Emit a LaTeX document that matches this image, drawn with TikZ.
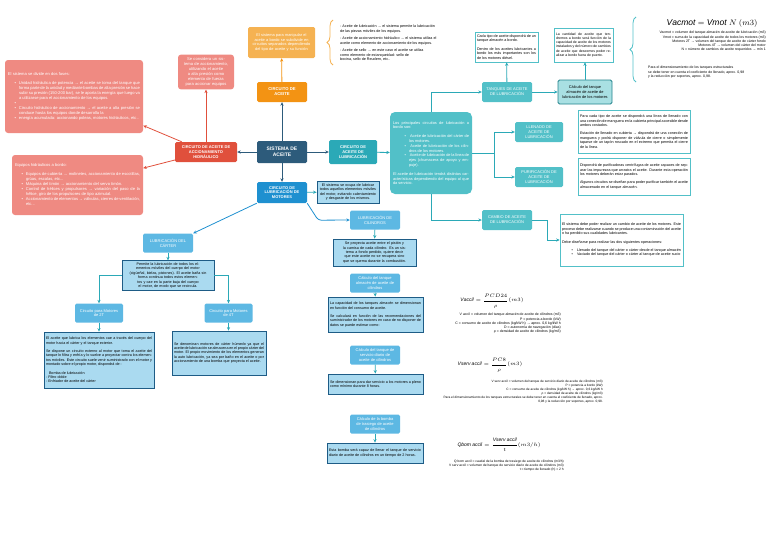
\documentclass[tikz,border=0pt]{standalone}
\usepackage{amsmath}
\usepackage{fontspec}
\setmainfont{Liberation Sans}
\usepackage{xcolor}
\usepackage{tikz}
\usetikzlibrary{arrows.meta,positioning,calc,decorations.pathreplacing}
\definecolor{hubblue}{HTML}{2D5B7B}
\definecolor{orangemain}{HTML}{F39313}
\definecolor{orangelight}{HTML}{F5B252}
\definecolor{redmain}{HTML}{E0503C}
\definecolor{redlight}{HTML}{EF8A82}
\definecolor{tealmain}{HTML}{2BA9B7}
\definecolor{teallight}{HTML}{52C0C8}
\definecolor{tealpale}{HTML}{A9E0E3}
\definecolor{tealdark}{HTML}{23838C}
\definecolor{bluemain}{HTML}{1E90D0}
\definecolor{bluelight}{HTML}{5DB8E3}
\definecolor{bluepale}{HTML}{AADAF0}
\definecolor{bluedark}{HTML}{1E5C86}
\tikzset{
  headbox/.style={rounded corners=1.5pt,align=center,text=white,inner sep=1pt,
    font=\fontsize{4}{4.8}\selectfont},
  hub/.style={headbox,fill=hubblue,minimum width=50pt,minimum height=22pt,
    font=\bfseries\fontsize{5}{6}\selectfont},
  orangehead/.style={headbox,fill=orangemain,minimum width=50pt,minimum height=20pt,
    font=\bfseries\fontsize{4.2}{5}\selectfont},
  orangenote/.style={headbox,fill=orangelight,minimum height=31pt,inner sep=2pt,
    font=\fontsize{3.9}{4.7}\selectfont},
  redhead/.style={headbox,fill=redmain,minimum width=62pt,minimum height=20pt,
    font=\bfseries\fontsize{4}{4.8}\selectfont},
  rednote/.style={headbox,fill=redlight,rounded corners=3pt,inner sep=3pt,
    font=\fontsize{4.1}{5}\selectfont},
  tealhead/.style={headbox,fill=teallight,minimum width=50pt,minimum height=20pt},
  tealbig/.style={fill=teallight,text=white,rounded corners=5pt,align=justify,inner sep=3pt,
    font=\fontsize{3.9}{4.8}\selectfont},
  tealnote/.style={draw=teallight,line width=0.7pt,fill=white,align=justify,inner sep=2pt,
    font=\fontsize{3.7}{4.4}\selectfont},
  tealcalc/.style={headbox,text=black,fill=tealpale,draw=tealdark,line width=0.8pt,
    minimum width=54pt,minimum height=24pt,font=\fontsize{3.9}{4.7}\selectfont},
  bluehead/.style={headbox,fill=bluemain,minimum width=50pt,minimum height=21pt,
    font=\bfseries\fontsize{4}{4.8}\selectfont},
  bluesub/.style={headbox,fill=bluelight,minimum width=50pt,minimum height=19pt},
  bluenote/.style={draw=bluedark,line width=0.8pt,fill=bluepale,align=center,inner sep=2pt,
    font=\fontsize{3.7}{4.4}\selectfont},
  arr/.style={-{Stealth[length=3.5pt,width=3.2pt]},line width=0.8pt},
  formula/.style={inner sep=0pt,font=\fontsize{5}{6}\selectfont},
  legend/.style={align=right,inner sep=0pt,font=\fontsize{3.5}{4.3}\selectfont}
}
\newcommand{\itm}[1][11pt]{\par\noindent\hangindent=#1\hangafter=0\llap{\textbullet\hspace{3pt}}}
\newcommand{\gapline}{\par\vspace{4pt}}

\begin{document}
\begin{tikzpicture}[x=1pt,y=-1pt]
\useasboundingbox (0,0) rectangle (768,544);

% centro
\node[hub] (sistema) at (282,152) {SISTEMA DE\\ACEITE};

% circuito de aceite
\node[orangehead] (circ) at (282,92) {CIRCUITO DE\\ACEITE};
\node[orangenote,text width=63pt] (circnota) at (281.5,42.5) {El sistema para manipular el
  aceite a bordo se subdivide en circuitos separados dependiendo del tipo de aceite y su función};
\coordinate (llaveA) at (333,65);
\coordinate (llaveB) at (333,20);
\draw[orangelight,line width=0.8pt,decorate,decoration={brace,amplitude=6pt}] (llaveA) -- (llaveB);
\node[anchor=west,align=left,inner sep=0pt,font=\fontsize{3.7}{4.5}\selectfont] (tipos) at (340,43) {%
  - Aceite de lubricación → el sistema permite la lubricación\\
  de las piezas móviles de los equipos.\\[3pt]
  - Aceite de accionamiento hidráulico → el sistema utiliza el\\
  aceite como elemento de accionamiento de los equipos.\\[3pt]
  - Aceite de sello → en este caso el aceite se utiliza\\
  como elemento de estanqueidad: sello de\\
  bocina, sello de Reudern, etc..};

% accionamiento hidraulico
\node[redhead] (hidra) at (206,152) {CIRCUITO DE ACEITE DE\\ACCIONAMIENTO\\HIDRÁULICO};
\node[rednote,text width=50pt,minimum height=32pt] (hidranota) at (206,72) {Se considera un sistema
  de accionamiento, utilizando el aceite a alta presión como elemento de fuerza para accionar equipos};
\node[rednote,align=justify,text width=132pt,minimum height=73pt] (fases) at (74,96.5) {%
  El sistema se divide en dos fases:\gapline
  \itm Unidad hidráulica de potencia → el aceite se toma del tanque que forma parte de la unidad y
  mediante bombas de alta presión se hace subir su presión (150-200 bar), se le aporta la energía que
  luego va a utilizarse para el accionamiento de los equipos.
  \itm \mbox{}
  \itm Circuito hidráulico de accionamiento → el aceite a alta presión se conduce hasta los equipos donde
  desarrolla la
  \itm energía acumulada: accionando poleas, motores hidráulicos, etc..\par};
\node[rednote,align=justify,text width=125pt,minimum height=60pt] (equipos) at (77.5,185) {%
  Equipos hidráulicos a bordo:\gapline
  \itm Equipos de cubierta → molinetes, accionamiento de escotillas, grúas, escalas, etc...
  \itm Máquina del timón → accionamiento del servo timón.
  \itm Control de hélices y propulsores → variación del paso de la hélice, giro de los propulsores
  de tipo azimutal.
  \itm Accionamiento de elementos → válvulas, cierres de ventilación, etc...\par};

% lubricacion
\node[tealhead,fill=tealmain,minimum width=48pt,minimum height=24pt,
  font=\bfseries\fontsize{4}{4.8}\selectfont] (lubri) at (353,152) {CIRCUITO DE\\ACEITE DE\\LUBRICACIÓN};
\node[tealbig,text width=76pt,minimum height=82pt] (princ) at (431,153) {%
  Los principales circuitos de lubricación a bordo son:\gapline
  \itm[16pt] Aceite de lubricación del cárter de los motores.
  \itm[16pt] Aceite de lubricación de los cilindros de los motores.
  \itm[16pt] Aceite de lubricación de la línea de ejes (chumacera de apoyo y empuje).\gapline
  El aceite de lubricación tendrá distintas características dependiendo del equipo al que da servicio.};
\node[tealhead] (tanques) at (507,92) {TANQUES DE ACEITE\\DE LUBRICACIÓN};
\node[tealnote,text width=59pt,minimum height=30pt] (tanqnota) at (506.5,47) {%
  Cada tipo de aceite dispondrá de un tanque almacén a bordo.\gapline
  Dentro de los aceites lubricantes a bordo los más importantes son los de los motores diésel.};
\node[tealcalc] (calc) at (585,92) {Cálculo del tanque\\almacén de aceite de\\lubricación de los motores};
\node[tealnote,text width=55pt,minimum height=34pt,font=\fontsize{3.5}{4.1}\selectfont] (calcnota) at (583.5,45) {%
  La cantidad de aceite que tendremos a bordo será función de la capacidad de aceite de los
  motores instalados y del número de cambios de aceite que deseemos poder realizar a bordo fuera
  de puerto.};
\coordinate (llaveC) at (636,82);
\coordinate (llaveD) at (636,17);
\draw[teallight,line width=0.8pt,decorate,decoration={brace,amplitude=6pt}] (llaveC) -- (llaveD);
\node[formula,font=\fontsize{8.5}{10}\selectfont] (fvac) at (712,23) {$\mathit{Vacmot} = \mathit{Vmot}\;N\;(m3)$};
\node[legend,anchor=north east] (lvac) at (766,31) {%
  Vacmot = volumen del tanque almacén de aceite de lubricación (m3)\\
  Vmot = suma de la capacidad de aceite de todos los motores (m3)\\
  Motores 2T → volumen del tanque de aceite de cárter fondo\\
  Motores 4T → volumen del cárter del motor\\
  N = número de cambios de aceite requeridos → mín 1};
\node[anchor=north west,align=left,inner sep=0pt,font=\fontsize{3.5}{4.4}\selectfont] (lcoef) at (648,66) {%
  Para el dimensionamiento de los tanques estructurales\\
  se debe tener en cuenta el coeficiente de llenado, aprox. 0,98\\
  y la reducción por soportes, aprox. 0,98.};
\node[tealhead,minimum width=48pt] (llenado) at (539,132) {LLENADO DE\\ACEITE DE\\LUBRICACIÓN};
\node[tealhead,minimum width=48pt] (purif) at (539,177) {PURIFICACIÓN DE\\ACEITE DE\\LUBRICACIÓN};
\node[tealnote,text width=108pt,minimum height=43pt] (llenota) at (634,131.5) {%
  Para cada tipo de aceite se dispondrá una línea de llenado con una conexión de manguera en la
  cubierta principal accesible desde ambos costados.\gapline
  Estación de llenado en cubierta → dispondrá de una conexión de manguera y podrá disponer de
  válvula de cierre o simplemente taparse de un tapón roscado en el extremo que permita el cierre
  de la línea.};
\node[tealnote,text width=108pt,minimum height=37pt] (purnota) at (634,176.5) {%
  Dispondrá de purificadoras centrífugas de aceite capaces de separar las impurezas que arrastra el
  aceite. Durante esta operación los motores deberán estar parados.\gapline
  Algunos circuitos se diseñan para poder purificar también el aceite almacenado en el tanque almacén.};
\node[tealhead] (cambio) at (507,220) {CAMBIO DE ACEITE\\DE LUBRICACIÓN};
\node[tealnote,text width=119pt,minimum height=52pt] (camnota) at (621.5,240) {%
  El sistema debe poder realizar un cambio de aceite de los motores. Este proceso debe realizarse
  cuando se produce una contaminación del aceite o ha perdido sus cualidades lubricantes.\gapline
  Debe diseñarse para realizar las dos siguientes operaciones:\gapline
  \itm[14pt] Llenado del tanque del cárter o cárter desde el tanque almacén
  \itm[14pt] Vaciado del tanque del cárter o cárter al tanque de aceite sucio\par};

% lubricacion de motores
\node[bluehead] (motores) at (282,192.5) {CIRCUITO DE\\LUBRICACIÓN DE\\MOTORES};
\node[bluenote,text width=58pt,minimum height=22pt] (motnota) at (348,192) {El sistema se ocupa de
  lubricar todos aquellos elementos móviles del motor, evitando calentamiento y desgaste de los mismos.};
\node[bluesub] (cilin) at (375,220) {LUBRICACIÓN DE\\CILINDROS};
\node[bluenote,text width=79pt,minimum height=27pt] (cilnota) at (374.5,252.5) {Se proyecta aceite
  entre el pistón y la camisa de cada cilindro. Es un sistema a fondo perdido, quiere decir que este
  aceite no se recupera sino que se quema durante la combustión.};
\node[bluesub] (almcil) at (375,283) {Cálculo del tanque\\almacén de aceite de\\cilindros};
\node[bluenote,align=justify,text width=91pt,minimum height=35pt] (almnota) at (375.5,314.5) {%
  La capacidad de los tanques almacén se dimensionan en función del consumo de aceite.\gapline
  Se calculará en función de las recomendaciones del suministrador de los motores en caso de no
  disponer de datos se puede estimar como:};
\node[bluesub] (servcil) at (375,355) {Cálculo del tanque de\\servicio diario de\\aceite de cilindros};
\node[bluenote,align=justify,text width=91pt,minimum height=20pt] (servnota) at (375.5,384) {%
  Se dimensionan para dar servicio a los motores a pleno como mínimo durante 8 horas.};
\node[bluesub] (bomba) at (375,424) {Cálculo de la bomba\\de trasiego de aceite\\de cilindros};
\node[bluenote,align=justify,text width=92pt,minimum height=20pt] (bombanota) at (375,453) {%
  Esta bomba será capaz de llenar el tanque de servicio diario de aceite de cilindros en un tiempo
  de 2 horas.};

\node[formula] (fcil) at (492,301) {$\mathit{Vaccil} = \dfrac{PCD24}{\rho}(m3)$};
\node[legend,anchor=north east] (lcil) at (561,313) {%
  V accil = volumen del tanque almacén de aceite de cilindros (m3)\\
  P = potencia a bordo (kW)\\
  C = consumo de aceite de cilindros (kg/kW h) → aprox. 0,6 kg/kW h\\
  D = autonomía de navegación (días)\\
  ρ = densidad de aceite de cilindros (kg/m3)};
\node[formula] (fserv) at (490,365) {$\mathit{Vserv\,accil} = \dfrac{PC8}{\rho}(m3)$};
\node[legend,anchor=north east,font=\fontsize{3.2}{4}\selectfont] (lserv) at (603,380) {%
  V serv accil = volumen del tanque de servicio diario de aceite de cilindros (m3)\\
  P = potencia a bordo (kW)\\
  C = consumo de aceite de cilindros (kg/kW h) → aprox. 0,6 kg/kW h\\
  ρ = densidad de aceite de cilindros (kg/m3)\\
  Para el dimensionamiento de los tanques estructurales se debe tener en cuenta el coeficiente de llenado, aprox.\\
  0,98 y la reducción por soportes, aprox. 0,98.};
\node[formula] (fbom) at (499,445) {$\mathit{Qbom\,accil} = \dfrac{\mathit{Vserv\,accil}}{t}(m3/h)$};
\node[legend,anchor=north east,font=\fontsize{3.3}{4.1}\selectfont] (lbom) at (564,460) {%
  Q bom accil = caudal de la bomba de trasiego de aceite de cilindros (m3/h)\\
  V serv accil = volumen del tanque de servicio diario de aceite de cilindros (m3)\\
  t = tiempo de llenado (h) = 2 h};

\node[bluesub] (carter) at (168,243) {LUBRICACIÓN DEL\\CÁRTER};
\node[bluenote,text width=88pt,minimum height=27pt] (carnota) at (168,275.5) {Permite la lubricación
  de todos los elementos móviles del cuerpo del motor (cigüeñal, bielas, pistones). El aceite baña sin\\
  forma continua todos estos elementos y cae en la parte baja del cuerpo el motor, de modo que se recircula.};
\node[bluesub,minimum width=48pt] (dos) at (99,313) {Circuito para Motores\\de 2T};
\node[bluesub,minimum width=48pt] (cuatro) at (228.5,313) {Circuito para Motores\\de 4T};
\node[bluenote,align=justify,text width=106pt,minimum height=56pt] (dosnota) at (99,360) {%
  El aceite que lubrica los elementos cae a través del cuerpo del motor hacia el cárter y el tanque
  exterior.\gapline
  Se dispone un circuito externo al motor que toma el aceite del tanque lo filtra y enfría y lo
  vuelve a proyectar contra los elementos móviles. Este circuito suele venir suministrado con el
  motor y montado sobre el propio motor, dispondrá de :\gapline
  \hspace*{3pt}Bomba de lubricación\\
  - Filtro doble\\
  - Enfriador de aceite del cárter};
\node[bluenote,align=justify,text width=90pt,minimum height=44pt] (cuanota) at (219,353) {%
  Se denominan motores de cárter húmedo ya que el aceite de lubricación se almacena en el propio
  cárter del motor. El propio movimiento de los elementos generan la auto lubricación, ya sea por
  baño en el aceite o por accionamiento de una bomba que proyecta el aceite.};

% conectores
\draw[arr,hubblue] (sistema) -- (circ);
\draw[arr,orangemain] (circ) -- (circnota);
\draw[arr,hubblue] (sistema) -- (hidra);
\draw[arr,hubblue] (sistema) -- (motores);
\draw[arr,hubblue] (sistema) -- (lubri);
\draw[arr,redmain] (hidra) -- (hidranota);
\draw[arr,redmain] (hidra) -- (fases);
\draw[arr,redmain] (hidra) -- (equipos);

\draw[arr,tealmain] (lubri) -- (princ);
\draw[arr,tealmain] (princ.north) |- (tanques);
\draw[arr,tealmain] (tanques) -- (tanqnota);
\draw[arr,tealmain] (tanques) -- (calc);
\draw[arr,tealmain] (calc.north) -- (calc.north |- calcnota.south);
\coordinate (reparto) at ($(princ.east)+(22,0)$);
\draw[line width=0.8pt,tealmain] (princ.east) -- (reparto);
\draw[arr,tealmain] (reparto) |- (llenado);
\draw[arr,tealmain] (reparto) |- (purif);
\draw[arr,tealmain] (princ.south) |- (cambio);
\draw[arr,tealmain] (cambio.east) -- ++(15,0) |- (camnota.west);

\draw[arr,tealmain] (motores) -- (motnota);
\draw[arr,bluemain,rounded corners=3pt] (motores.south east) -- ++(11,17) -- (cilin.west);
\draw[arr,tealmain] (cilin) -- (cilnota);
\draw[arr,tealmain] (almcil) -- (almnota);
\draw[arr,tealmain] (servcil) -- (servnota);
\draw[arr,tealmain] (bomba) -- (bombanota);
\draw[arr,bluemain] (motores.south west) -- (carter.north east);
\draw[arr,tealmain] (carter) -- (carnota);
\draw[arr,tealmain] (carnota.west) -| (dos);
\draw[arr,tealmain] (carnota.east) -| (cuatro);
\draw[arr,tealmain] (dos) -- (dosnota);
\draw[arr,tealmain] (cuatro.south) -- (cuatro.south |- cuanota.north);
\end{tikzpicture}
\end{document}
